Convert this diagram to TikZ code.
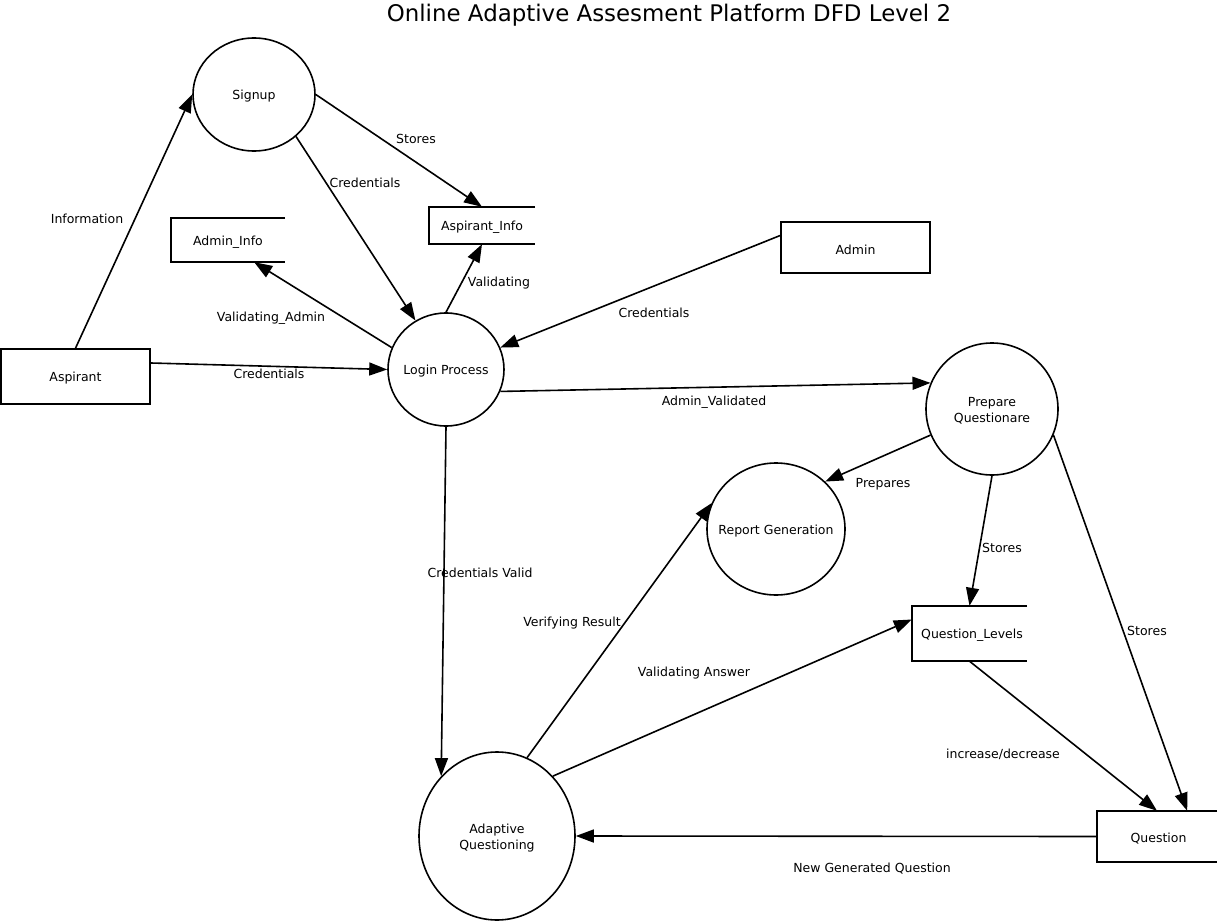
\documentclass[tikz,border=0pt]{standalone}
\usepackage{fontspec}
\setmainfont{DejaVu Sans}
\usetikzlibrary{arrows.meta,shapes.geometric}
\begin{document}
\begin{tikzpicture}[x=1pt,y=-1pt,
  every node/.style={font=\fontsize{12.5}{16}\selectfont},
  proc/.style={draw, ellipse, line width=1.6pt, inner sep=0pt},
  ptext/.style={label={[align=center, inner sep=0pt, yshift=-2pt]center:#1}},
  ent/.style={draw, rectangle, line width=1.6pt, inner sep=0pt},
  store/.style={rectangle, inner sep=0pt},
  openbox/.style={line width=1.6pt},
  flow/.style={line width=1.6pt, -{Triangle[length=18pt,width=13pt]}},
  lbl/.style={inner sep=1pt, yshift=-1.5pt},
  ]
\useasboundingbox (0,0) rectangle (1219,923);
\fill[white] (0,0) rectangle (1219,923);

\node[font=\fontsize{22.9}{27}\selectfont] (title) at (669,15) {Online Adaptive Assesment Platform DFD Level 2};

% processes
\node[proc, minimum width=122pt, minimum height=113pt, ptext={Signup}] (signup) at (254,94.5) {};
\node[proc, minimum width=116pt, minimum height=113pt, ptext={Login Process}] (login) at (446,369.5) {};
\node[proc, minimum width=132pt, minimum height=132pt, ptext={Prepare\\Questionare}] (prep) at (992,409) {};
\node[proc, minimum width=138pt, minimum height=132pt, ptext={Report Generation}] (rep) at (776,529) {};
\node[proc, minimum width=156pt, minimum height=168pt, ptext={Adaptive\\Questioning}] (adq) at (497,836) {};

% entities
\node[ent, minimum width=149pt, minimum height=55pt, ptext={Aspirant}] (asp) at (75.5,376.5) {};
\node[ent, minimum width=149pt, minimum height=51pt, ptext={Admin}] (admin) at (855.5,247.5) {};

% data stores
\node[store, minimum width=114pt, minimum height=44pt, ptext={Admin\_Info}] (adinfo) at (228,240) {};
\node[store, minimum width=106pt, minimum height=37pt, ptext={Aspirant\_Info}] (ainfo) at (482,225.5) {};
\node[store, minimum width=115pt, minimum height=55pt, ptext={\hspace*{5pt}Question\_Levels}] (qlev) at (969.5,633.5) {};
\node[store, minimum width=120pt, minimum height=51pt, ptext={\hspace*{3pt}Question}] (q) at (1157,836.5) {};
\foreach \s in {adinfo,ainfo,qlev,q}{
  \draw[openbox] (\s.north east) -- (\s.north west) -- (\s.south west) -- (\s.south east);
}

% flows
\draw[flow] (asp.north) -- (signup.west);
\draw[flow] (signup.east) -- (ainfo.north);
\draw[flow] (signup.-45) -- (login.122);
\draw[flow] (login.158) -- ([xshift=-31pt]adinfo.south east);
\draw[flow] (login.north) -- (ainfo.south);
\draw[flow] ([yshift=12pt]admin.west) -- (login.22);
\draw[flow] ([yshift=13.5pt]asp.east) -- (login.west);
\draw[flow] (login.-22) -- (prep.157);
\draw[flow] (prep.203) -- (rep.44);
\draw[flow] (prep.south) -- (qlev.north);
\draw[flow] (prep.-23) -- ([xshift=-30pt]q.north east);
\draw[flow] (login.south) -- (adq.133.5);
\draw[flow] (adq.69) -- (rep.158);
\draw[flow] (adq.47.5) -- ([yshift=14pt]qlev.west);
\draw[flow] (qlev.south) -- (q.north);
\draw[flow] (q.west) -- (adq.east);

% labels
\node[lbl] (l1) at (87,217) {Information};
\node[lbl] (l2) at (416,137) {Stores};
\node[lbl] (l3) at (365,181) {Credentials};
\node[lbl] (l4) at (271,317) {Validating\_Admin};
\node[lbl] (l5) at (499,282) {Validating};
\node[lbl] (l6) at (654,311) {Credentials};
\node[lbl] (l7) at (269,372) {Credentials};
\node[lbl] (l8) at (714,401) {Admin\_Validated};
\node[lbl] (l9) at (883,483) {Prepares};
\node[lbl] (l10) at (1002,546) {Stores};
\node[lbl] (l11) at (1147,629) {Stores};
\node[lbl] (l12) at (480,571) {Credentials Valid};
\node[lbl] (l13) at (572,622) {Verifying Result};
\node[lbl] (l14) at (694,672) {Validating Answer};
\node[lbl] (l15) at (1003,753) {increase/decrease};
\node[lbl] (l16) at (872,867) {New Generated Question};
\end{tikzpicture}
\end{document}
